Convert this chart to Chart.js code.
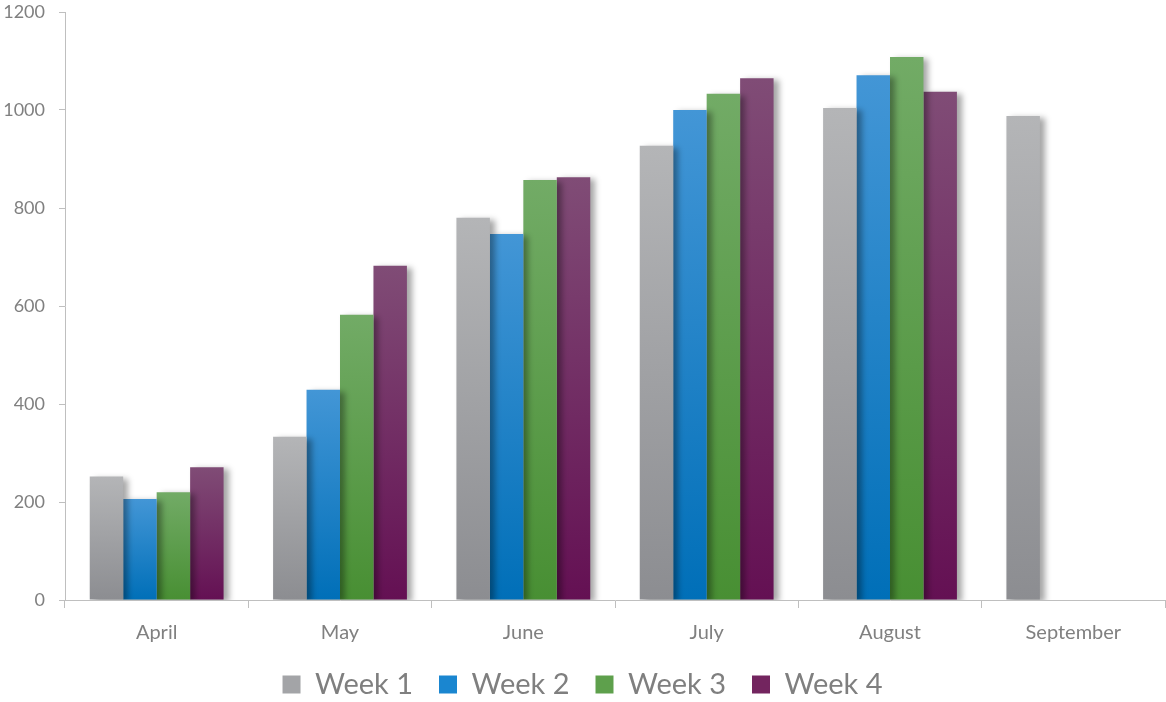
<!DOCTYPE html>
<html>
<head>
<meta charset="utf-8">
<script src="https://cdn.jsdelivr.net/npm/chart.js@4.4.1/dist/chart.umd.min.js"></script>
<style>
    html, body { margin: 0; padding: 0; background: #fff; }
    #wrap { width: 1166px; height: 702px; }
</style>
</head>
<body>
<div id="wrap"><canvas id="weeksChart"></canvas></div>
<script>
const months = ['April', 'May', 'June', 'July', 'August', 'September'];
const week1 = [252, 333, 780, 927, 1004, 988];
const week2 = [206, 429, 747, 1000, 1071, null];
const week3 = [220, 582, 857, 1033, 1108, null];
const week4 = [271, 682, 863, 1065, 1037, null];
const yTicks = [0, 200, 400, 600, 800, 1000, 1200];

// top / bottom colours of each bar gradient
const palette = [
    { top: '#b4b5b7', bottom: '#8c8d91', flat: '#a3a4a7' },
    { top: '#4396d6', bottom: '#006fb8', flat: '#1a86d0' },
    { top: '#72ab66', bottom: '#488f33', flat: '#5ea04c' },
    { top: '#804c76', bottom: '#641053', flat: '#73255f' }
];

function barGradient(idx) {
    return (ctx) => {
        const chart = ctx.chart;
        const y = chart.scales.y;
        if (!chart.chartArea || !y || ctx.raw == null) {
            return palette[idx].flat;
        }
        const top = y.getPixelForValue(ctx.raw);
        const base = y.getPixelForValue(0);
        const g = chart.ctx.createLinearGradient(0, top, 0, base);
        g.addColorStop(0, palette[idx].top);
        g.addColorStop(1, palette[idx].bottom);
        return g;
    };
}

const barShadow = {
    id: 'barShadow',
    beforeDatasetsDraw(chart) {
        const c = chart.ctx;
        c.save();
        c.shadowColor = 'rgba(0, 0, 0, 0.35)';
        c.shadowBlur = 6;
        c.shadowOffsetX = 5;
        c.shadowOffsetY = 2;
    },
    afterDatasetsDraw(chart) {
        chart.ctx.restore();
    }
};

// keep the legend band short so the plot keeps its height
const legendHeight = {
    id: 'legendHeight',
    beforeInit(chart) {
        const fit = chart.legend.fit;
        chart.legend.fit = function () {
            fit.bind(this)();
            this.height = 58;
        };
    }
};

const series = [week1, week2, week3, week4];

new Chart(document.getElementById('weeksChart'), {
    type: 'bar',
    data: {
        labels: months,
        datasets: series.map((values, i) => ({
            label: `Week ${i + 1}`,
            data: values,
            backgroundColor: barGradient(i),
            borderWidth: 0
        }))
    },
    options: {
        responsive: true,
        maintainAspectRatio: false,
        animation: false,
        datasets: {
            bar: { categoryPercentage: 0.73, barPercentage: 1 }
        },
        layout: { padding: { top: 0, right: 1, left: 0, bottom: 0 } },
        plugins: {
            tooltip: { enabled: false },
            legend: {
                position: 'bottom',
                labels: {
                    font: { family: 'Lato', size: 29 },
                    color: '#7f7f7f',
                    boxWidth: 18,
                    boxHeight: 18,
                    padding: 26,
                    generateLabels: (chart) => chart.data.datasets.map((ds, i) => ({
                        text: ds.label,
                        fillStyle: palette[i].flat,
                        strokeStyle: palette[i].flat,
                        lineWidth: 0,
                        fontColor: '#7f7f7f',
                        datasetIndex: i
                    }))
                }
            }
        },
        scales: {
            x: {
                afterFit: (scale) => { scale.height = 44; },
                grid: {
                    offset: true,
                    drawOnChartArea: false,
                    color: '#bfbfbf',
                    tickLength: 8
                },
                border: { color: '#bfbfbf', width: 1 },
                ticks: {
                    font: { family: 'Lato', size: 20 },
                    color: '#808080',
                    padding: 13
                }
            },
            y: {
                min: 0,
                max: 1200,
                afterBuildTicks: (scale) => {
                    scale.ticks = yTicks.map((v) => ({ value: v }));
                },
                afterFit: (scale) => {
                    scale.width = 65;
                    scale.paddingTop = 12;
                    scale.paddingBottom = 0;
                },
                grid: {
                    drawOnChartArea: false,
                    color: '#bfbfbf',
                    tickLength: 6
                },
                border: { color: '#bfbfbf', width: 1 },
                ticks: {
                    font: { family: 'Lato', size: 18 },
                    color: '#808080',
                    padding: 14,
                    callback: (v) => String(v)
                }
            }
        }
    },
    plugins: [barShadow, legendHeight]
});
</script>
</body>
</html>
